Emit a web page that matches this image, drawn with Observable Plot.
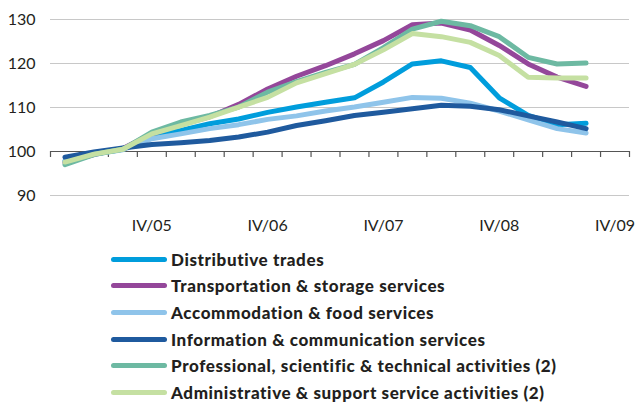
<!DOCTYPE html>
<html>
<head>
<meta charset="utf-8">
<script src="https://cdn.jsdelivr.net/npm/d3@7"></script>
<script src="https://cdn.jsdelivr.net/npm/@observablehq/plot@0.6"></script>
<style>
  html, body { margin: 0; padding: 0; background: #fff; }
  body { width: 637px; height: 405px; overflow: hidden; font-family: Lato, sans-serif; }
  #legend { position: absolute; left: 111px; top: 246px; }
  .row { display: flex; align-items: center; height: 26.6px; }
  .sw { width: 56px; height: 5px; border-radius: 3px; margin-right: 4px; }
  .lab { font-family: Lato, sans-serif; font-weight: 900; font-size: 17px; color: #231f20; white-space: nowrap; letter-spacing: 0.6px; }
</style>
</head>
<body>
<div id="chart"></div>
<div id="legend"></div>
<script>
// Quarters I/05 .. IV/09 (each a band on the x axis)
const quarters = [
  "I/05","II/05","III/05","IV/05",
  "I/06","II/06","III/06","IV/06",
  "I/07","II/07","III/07","IV/07",
  "I/08","II/08","III/08","IV/08",
  "I/09","II/09","III/09","IV/09"
];
const yTicks = [90, 100, 110, 120, 130];

const seriesNames = [
  "Distributive trades",
  "Transportation & storage services",
  "Accommodation & food services",
  "Information & communication services",
  "Professional, scientific & technical activities (2)",
  "Administrative & support service activities (2)"
];
const seriesColors = ["#009ddc", "#94479a", "#8fc4ea", "#1f5a9e", "#6db9a2", "#c5e0a2"];

const distributive   = [97.8, 99.4, 100.5, 103.5, 104.8, 106.3, 107.4, 108.9, 110.1, 111.2, 112.2, 115.8, 119.9, 120.6, 119.1, 112.2, 108.2, 106.1, 106.4];
const transportation = [97.5, 99.3, 100.7, 104.0, 106.1, 107.9, 110.7, 114.2, 117.1, 119.5, 122.2, 125.2, 128.8, 129.2, 127.6, 124.1, 119.9, 116.9, 114.8];
const accommodation  = [97.8, 99.4, 100.4, 102.9, 104.0, 105.2, 106.1, 107.3, 108.1, 109.2, 110.1, 111.2, 112.3, 112.1, 111.0, 109.2, 107.2, 105.2, 104.2];
const information    = [98.7, 99.9, 100.8, 101.6, 102.0, 102.5, 103.3, 104.4, 105.9, 107.0, 108.2, 108.9, 109.7, 110.5, 110.3, 109.5, 108.1, 106.7, 105.2];
const professional   = [97.0, 99.3, 100.5, 104.4, 106.7, 108.2, 110.1, 113.5, 115.9, 118.0, 119.8, 123.6, 127.8, 129.6, 128.6, 126.1, 121.4, 119.9, 120.1];
const administrative = [97.6, 99.4, 100.5, 104.0, 105.9, 107.8, 110.1, 112.3, 115.6, 117.7, 119.8, 123.1, 126.8, 126.1, 124.8, 121.8, 116.9, 116.7, 116.7];

const allSeries = [distributive, transportation, accommodation, information, professional, administrative];

const data = allSeries.flatMap((vals, s) =>
  vals.map((v, i) => ({series: seriesNames[s], q: i + 0.5, value: v}))
);

const boundaries = d3.range(quarters.length + 1);
const labelPos = quarters.map((q, i) => q.startsWith("IV") ? i + 0.5 : null).filter(d => d !== null);

const chart = Plot.plot({
  width: 637,
  height: 240,
  marginLeft: 50,
  marginRight: 8,
  marginTop: 19,
  marginBottom: 45,
  style: {fontFamily: "Lato, sans-serif", fontSize: "16px", color: "#231f20", background: "#fff"},
  x: {type: "linear", domain: [0, quarters.length]},
  y: {domain: [90, 130]},
  color: {domain: seriesNames, range: seriesColors},
  marks: [
    Plot.ruleY(yTicks.filter(d => d !== 100), {stroke: "#c8c8c8", strokeWidth: 1}),
    Plot.ruleY([100], {stroke: "#555", strokeWidth: 1.2}),
    Plot.ruleX(boundaries, {x: d => d, y1: 100, y2: 100, insetBottom: -6, stroke: "#555", strokeWidth: 1.2}),
    Plot.axisY({ticks: yTicks, tickSize: 0, tickPadding: 15, label: null, fontSize: 16, fill: "#231f20"}),
    Plot.axisX({ticks: labelPos, tickSize: 0, tickPadding: 24, label: null, fontSize: 16, fill: "#231f20",
      tickFormat: d => quarters[Math.floor(d)]}),
    Plot.line(data, {x: "q", y: "value", z: "series", stroke: "series", strokeWidth: 5,
      strokeLinecap: "round", strokeLinejoin: "round"})
  ]
});
document.getElementById("chart").appendChild(chart);

const legend = document.getElementById("legend");
seriesNames.forEach((name, i) => {
  const row = document.createElement("div");
  row.className = "row";
  const sw = document.createElement("div");
  sw.className = "sw";
  sw.style.background = seriesColors[i];
  const lab = document.createElement("div");
  lab.className = "lab";
  lab.textContent = name;
  row.appendChild(sw);
  row.appendChild(lab);
  legend.appendChild(row);
});
</script>
</body>
</html>
